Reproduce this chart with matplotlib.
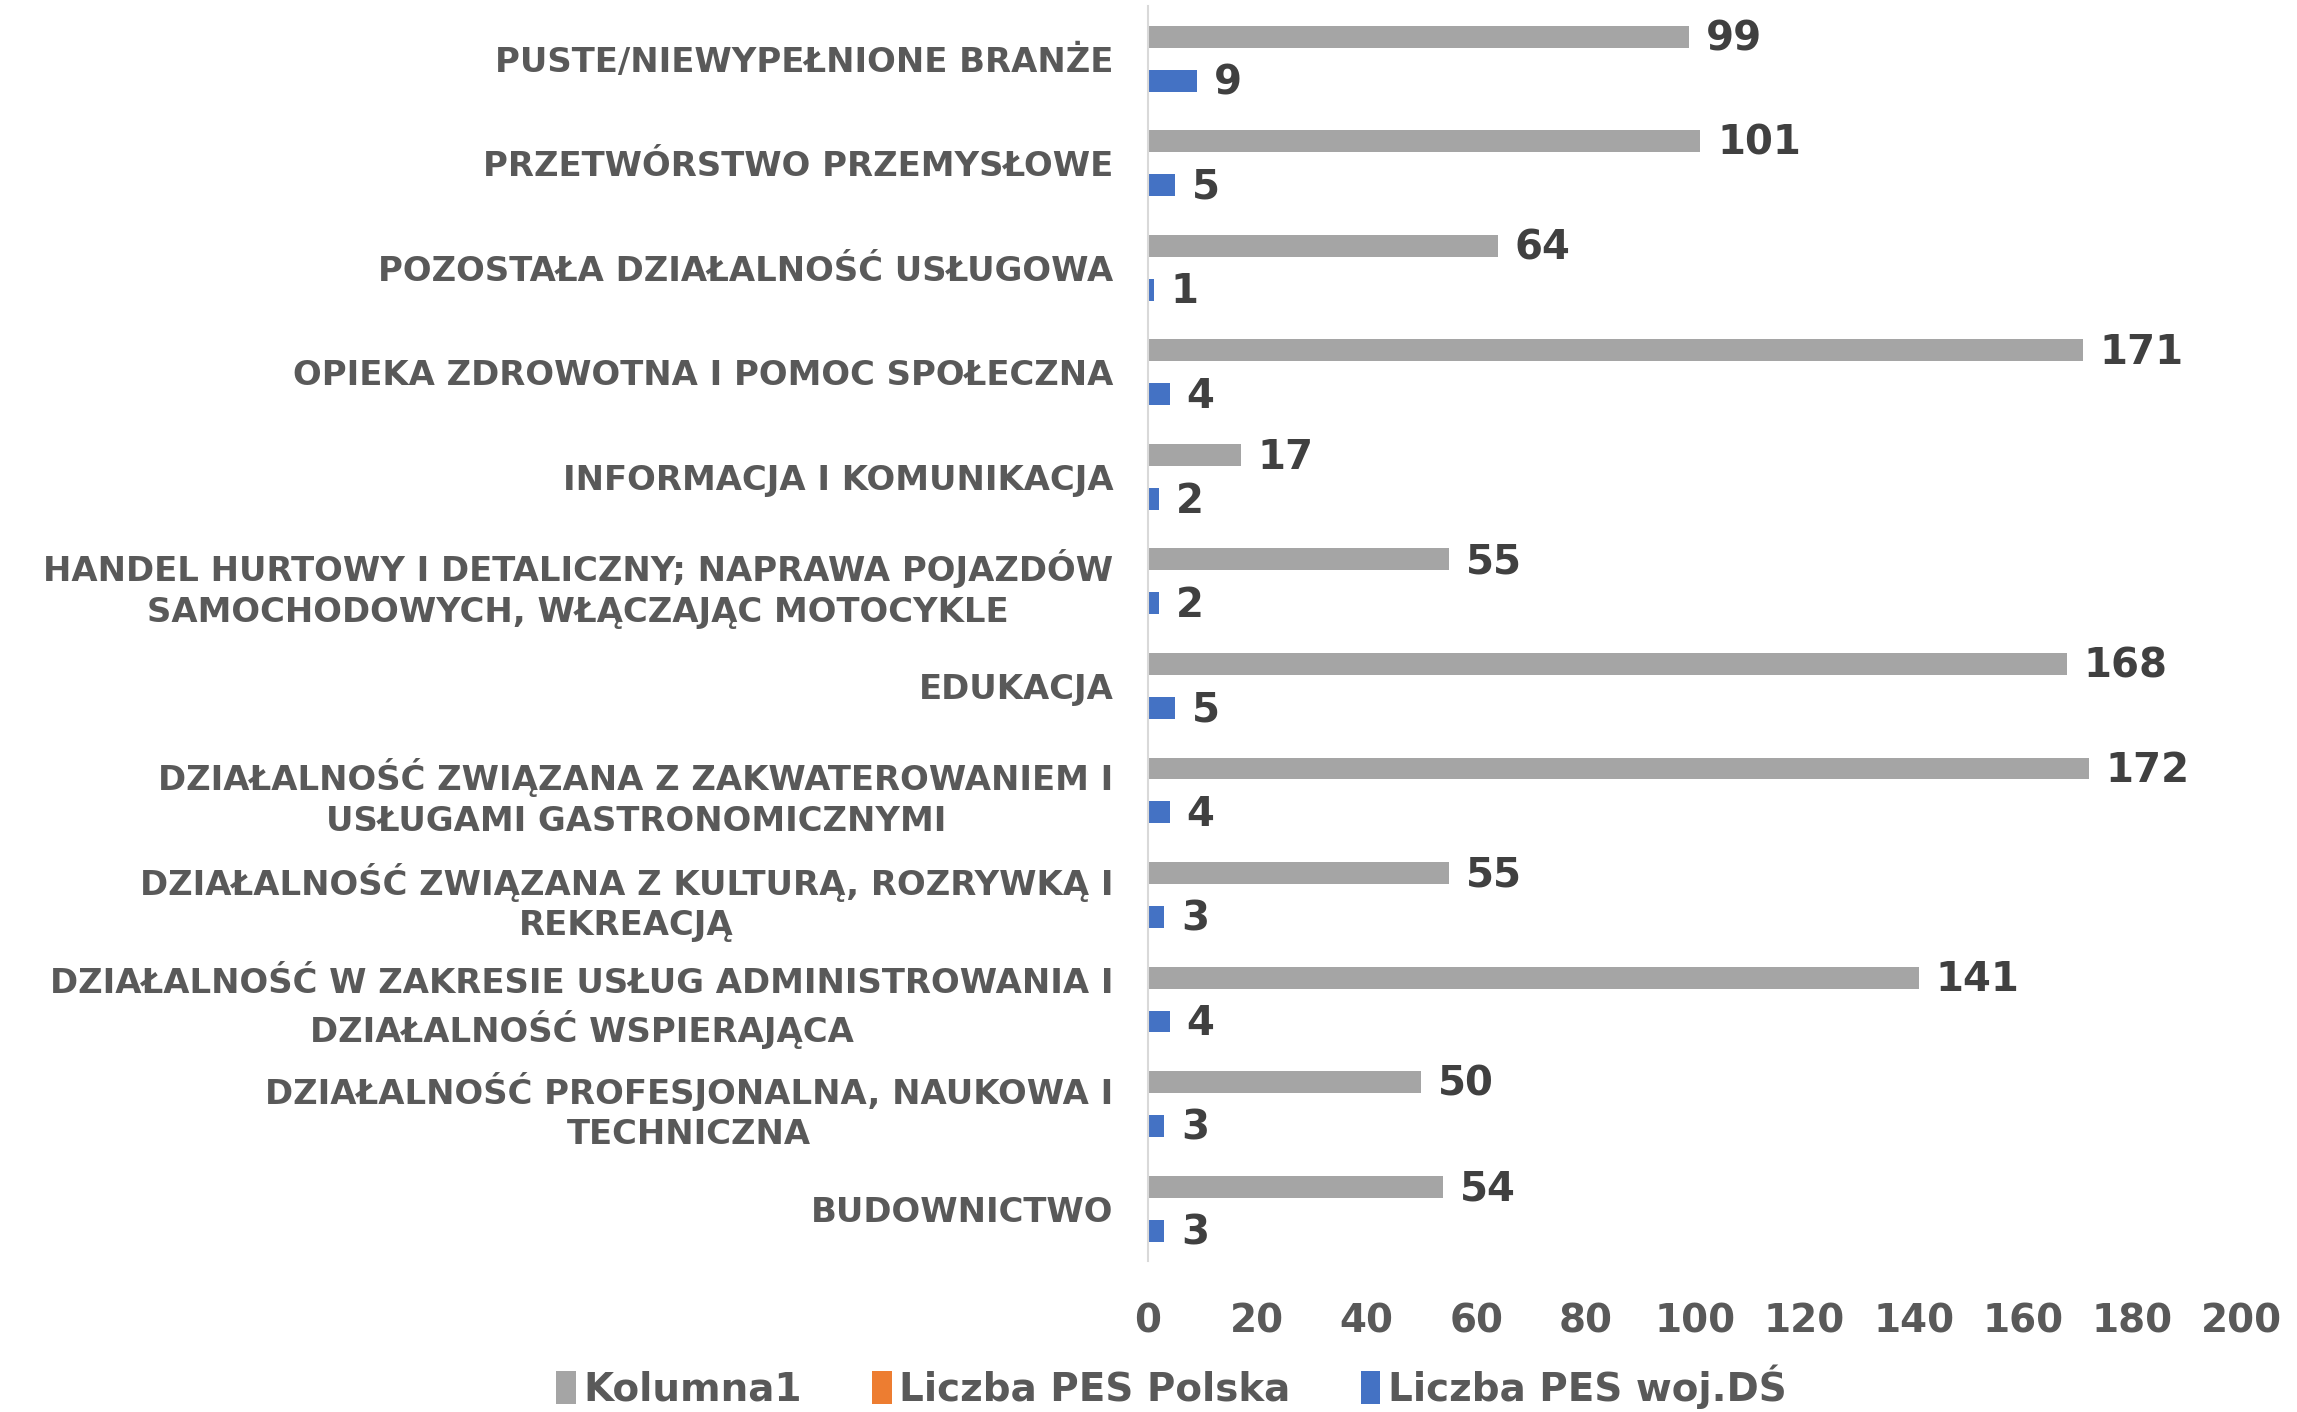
import matplotlib.pyplot as plt
import numpy as np

# --- data (bottom to top) ---
categories = [
    'BUDOWNICTWO',
    'DZIAŁALNOŚĆ PROFESJONALNA, NAUKOWA I\nTECHNICZNA',
    'DZIAŁALNOŚĆ W ZAKRESIE USŁUG ADMINISTROWANIA I\nDZIAŁALNOŚĆ WSPIERAJĄCA',
    'DZIAŁALNOŚĆ ZWIĄZANA Z KULTURĄ, ROZRYWKĄ I\nREKREACJĄ',
    'DZIAŁALNOŚĆ ZWIĄZANA Z ZAKWATEROWANIEM I\nUSŁUGAMI GASTRONOMICZNYMI',
    'EDUKACJA',
    'HANDEL HURTOWY I DETALICZNY; NAPRAWA POJAZDÓW\nSAMOCHODOWYCH, WŁĄCZAJĄC MOTOCYKLE',
    'INFORMACJA I KOMUNIKACJA',
    'OPIEKA ZDROWOTNA I POMOC SPOŁECZNA',
    'POZOSTAŁA DZIAŁALNOŚĆ USŁUGOWA',
    'PRZETWÓRSTWO PRZEMYSŁOWE',
    'PUSTE/NIEWYPEŁNIONE BRANŻE',
]
kolumna1 = [54, 50, 141, 55, 172, 168, 55, 17, 171, 64, 101, 99]
pes_polska = [0, 0, 0, 0, 0, 0, 0, 0, 0, 0, 0, 0]
pes_ds = [3, 3, 4, 3, 4, 5, 2, 2, 4, 1, 5, 9]
x_ticks = [0, 20, 40, 60, 80, 100, 120, 140, 160, 180, 200]

GRAY = '#A5A5A5'
ORANGE = '#ED7D31'
BLUE = '#4472C4'
LABEL_C = '#595959'
VALUE_C = '#404040'

plt.rcParams['font.family'] = 'DejaVu Sans'
plt.rcParams['font.weight'] = 'bold'

fig = plt.figure(figsize=(22.97, 14.12), dpi=100)
ax = fig.add_axes([0.4998, 0.107, 0.4762, 0.8885])

y = np.arange(len(categories))
h = 0.21
b1 = ax.barh(y + h, kolumna1, height=h, color=GRAY, label='Kolumna1')
b2 = ax.barh(y, pes_polska, height=h, color=ORANGE, linewidth=0, label='Liczba PES Polska')
b3 = ax.barh(y - h, pes_ds, height=h, color=BLUE, label='Liczba PES woj.DŚ')

# value labels next to the bars
for bars in (b1, b3):
    for bar in bars:
        w = bar.get_width()
        ax.annotate(str(int(w)), (w, bar.get_y() + bar.get_height() / 2),
                    xytext=(12, -2), textcoords='offset points',
                    ha='left', va='center', fontsize=29, color=VALUE_C,
                    fontweight='bold')

ax.set_xlim(0, 200)
ax.set_ylim(-0.5, len(categories) - 0.5)
ax.set_xticks(x_ticks)
ax.set_yticks(y)
ax.set_yticklabels(categories, multialignment='center', linespacing=1.3)
ax.tick_params(axis='x', length=0, pad=30, labelsize=28, labelcolor=LABEL_C)
ax.tick_params(axis='y', length=0, pad=25, labelsize=24.4, labelcolor=LABEL_C)

for s in ('top', 'right', 'bottom'):
    ax.spines[s].set_visible(False)
ax.spines['left'].set_color('#D9D9D9')
ax.spines['left'].set_linewidth(1.5)

fig.legend(handles=[b1, b2, b3], loc='center', bbox_to_anchor=(0.51, 0.018),
           ncol=3, frameon=False, fontsize=28, handlelength=0.5, handleheight=0.9,
           handletextpad=0.2, columnspacing=1.8, labelcolor=LABEL_C)

plt.savefig('out.png', dpi=100)
